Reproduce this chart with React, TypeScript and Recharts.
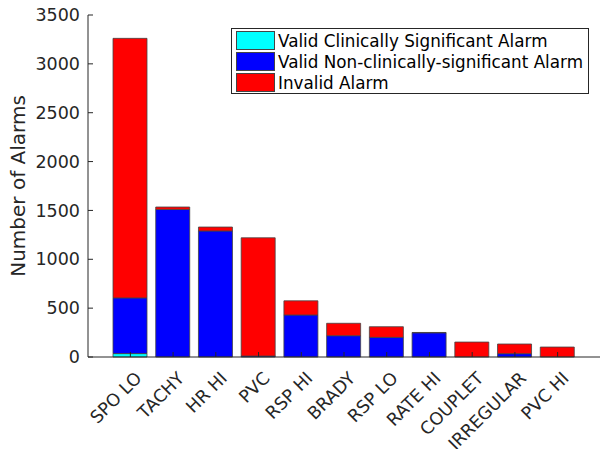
import { Bar, BarChart, XAxis, YAxis } from 'recharts'

const categories = ['SPO LO', 'TACHY', 'HR HI', 'PVC', 'RSP HI', 'BRADY', 'RSP LO', 'RATE HI', 'COUPLET', 'IRREGULAR', 'PVC HI']
const clinical = [35, 0, 0, 0, 0, 0, 0, 0, 0, 0, 0]
const nonClinical = [570, 1510, 1290, 10, 430, 218, 201, 248, 0, 34, 0]
const invalid = [2656, 25, 40, 1210, 145, 127, 109, 3, 153, 99, 102]
const yTicks = [0, 500, 1000, 1500, 2000, 2500, 3000, 3500]

const series = [
  { key: 'clinical', label: 'Valid Clinically Significant Alarm', color: '#00ffff' },
  { key: 'nonClinical', label: 'Valid Non-clinically-significant Alarm', color: '#0000ff' },
  { key: 'invalid', label: 'Invalid Alarm', color: '#ff0000' },
]

const data = categories.map((name, i) => ({
  name,
  clinical: clinical[i],
  nonClinical: nonClinical[i],
  invalid: invalid[i],
}))

const FONT = 'DejaVu Sans'
const INK = '#262626'

function LeftTick(props: any) {
  const { x, y, payload } = props
  return (
    <g>
      <line x1={x + 8} x2={x + 13} y1={y} y2={y} stroke={INK} />
      <text x={x} y={y} dy="0.35em" textAnchor="end" fontSize={17.5} fontFamily={FONT} fill={INK}>
        {payload.value}
      </text>
    </g>
  )
}

function RightTick(props: any) {
  const { x, y } = props
  return <line x1={x} x2={x - 5} y1={y} y2={y} stroke={INK} />
}

function BottomTick(props: any) {
  const { x, y, payload } = props
  return (
    <g>
      <line x1={x} x2={x} y1={y} y2={y - 5} stroke={INK} />
      <text
        transform={`translate(${x + 8},${y + 18}) rotate(-45)`}
        dy="0.35em"
        textAnchor="end"
        fontSize={17.5}
        fontFamily={FONT}
        fill={INK}
      >
        {payload.value}
      </text>
    </g>
  )
}

function TopTick(props: any) {
  const { x, y } = props
  return <line x1={x} x2={x} y1={y} y2={y + 5} stroke={INK} />
}

function LegendBox() {
  return (
    <div
      style={{
        position: 'absolute',
        left: 231,
        top: 28,
        width: 358,
        height: 66,
        border: '1px solid #262626',
        background: '#fff',
        padding: '1px 4px',
        fontFamily: FONT,
        fontSize: 16.8,
        color: '#000',
        boxSizing: 'border-box',
        whiteSpace: 'nowrap',
      }}
    >
      {series.map((s) => (
        <div key={s.key} style={{ display: 'flex', alignItems: 'center', height: 21 }}>
          <span
            style={{
              display: 'inline-block',
              width: 39,
              height: 19,
              background: s.color,
              border: '1px solid #444',
              boxSizing: 'border-box',
              marginRight: 3,
            }}
          />
          <span>{s.label}</span>
        </div>
      ))}
    </div>
  )
}

export default function App() {
  return (
    <div style={{ position: 'absolute', left: 0, top: 0, width: 602, height: 449, background: '#fff', overflow: 'hidden' }}>
      <BarChart width={602} height={449} data={data} margin={{ top: 15, right: 2, bottom: 0, left: 0 }} barSize={34}>
        <XAxis
          dataKey="name"
          xAxisId="b"
          height={92}
          padding={{ left: 21, right: 21 }}
          axisLine={{ stroke: INK }}
          tickLine={false}
          tickSize={0}
          tickMargin={0}
          interval={0}
          tick={<BottomTick />}
        />
        <XAxis
          dataKey="name"
          xAxisId="t"
          orientation="top"
          height={0}
          padding={{ left: 21, right: 21 }}
          axisLine={{ stroke: INK }}
          tickLine={false}
          tickSize={0}
          tickMargin={0}
          interval={0}
          tick={<TopTick />}
        />
        <YAxis
          yAxisId="l"
          width={88}
          domain={[0, 3500]}
          ticks={yTicks}
          axisLine={{ stroke: INK }}
          tickLine={false}
          tickSize={0}
          tickMargin={8}
          tick={<LeftTick />}
          label={{
            value: 'Number of Alarms',
            angle: -90,
            position: 'insideLeft',
            dx: 13,
            style: { fontFamily: FONT, fontSize: 20, fill: INK, textAnchor: 'middle' },
          }}
        />
        <YAxis
          yAxisId="r"
          orientation="right"
          width={0}
          domain={[0, 3500]}
          ticks={yTicks}
          axisLine={{ stroke: INK }}
          tickLine={false}
          tickSize={0}
          tickMargin={0}
          tick={<RightTick />}
        />
        {series.map((s) => (
          <Bar
            key={s.key}
            dataKey={s.key}
            name={s.label}
            stackId="a"
            xAxisId="b"
            yAxisId="l"
            fill={s.color}
            stroke="#444"
            strokeWidth={0.8}
            isAnimationActive={false}
          />
        ))}
      </BarChart>
      <LegendBox />
    </div>
  )
}
